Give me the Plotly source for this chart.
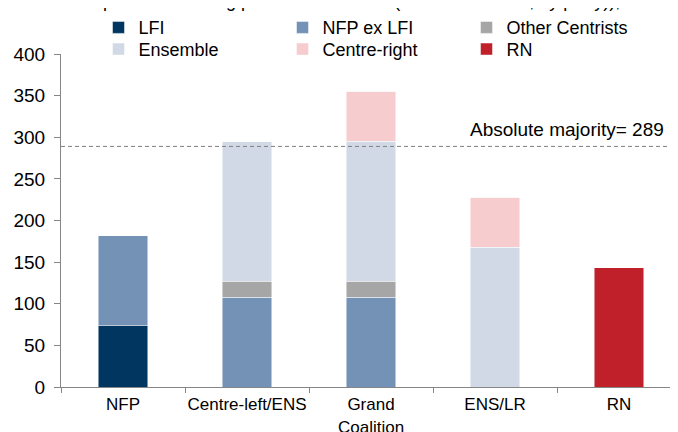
import plotly.graph_objects as go

categories = ["NFP", "Centre-left/ENS", "Grand<br>Coalition", "ENS/LR", "RN"]

series_names = ["LFI", "NFP ex LFI", "Other Centrists", "Ensemble", "Centre-right", "RN"]
lfi = [74, 0, 0, 0, 0]
nfp_ex_lfi = [108, 108, 108, 0, 0]
other_centrists = [0, 19, 19, 0, 0]
ensemble = [0, 168, 168, 168, 0]
centre_right = [0, 0, 60, 60, 0]
rn = [0, 0, 0, 0, 143]
colors = ["#003660", "#7392B5", "#A6A6A6", "#D2D9E6", "#F6CCCE", "#C0202A"]
legend_rows = ["legend", "legend", "legend", "legend2", "legend2", "legend2"]

majority = 289
y_ticks = [0, 50, 100, 150, 200, 250, 300, 350, 400]
title_text = "Groups in the running potential coalitions (number of seats, by party)),"

FONT = "Liberation Sans, Arial, sans-serif"

fig = go.Figure()
for name, vals, col, lg in zip(series_names,
                               [lfi, nfp_ex_lfi, other_centrists, ensemble, centre_right, rn],
                               colors, legend_rows):
    fig.add_trace(go.Bar(
        x=categories, y=vals, name=name, legend=lg,
        marker=dict(color=col, line=dict(color="rgba(255,255,255,0.6)", width=0.8)),
        width=0.4,
    ))

fig.add_shape(type="line", xref="paper", yref="y", x0=0, x1=0.99,
              y0=majority, y1=majority,
              line=dict(color="#7F7F7F", width=1, dash="4px,3px"))
fig.add_annotation(xref="paper", yref="y", x=0.968, y=majority,
                   text=f"Absolute majority= {majority}", showarrow=False,
                   xanchor="right", yanchor="bottom", yshift=4,
                   font=dict(family=FONT, size=19, color="#000000"))
fig.add_annotation(xref="paper", yref="paper", x=0.0, y=1.123,
                   text=title_text, showarrow=False,
                   xanchor="left", yanchor="bottom",
                   font=dict(family=FONT, size=18, color="#000000"))

legend_common = dict(orientation="h", xanchor="left", yanchor="middle",
                     xref="paper", yref="paper",
                     entrywidth=139, entrywidthmode="pixels", itemwidth=30,
                     traceorder="normal", font=dict(family=FONT, size=18),
                     bgcolor="rgba(0,0,0,0)", borderwidth=0)

fig.update_layout(
    width=678, height=432,
    margin=dict(l=53, r=0, t=46, b=53, pad=0, autoexpand=False),
    barmode="stack",
    plot_bgcolor="white", paper_bgcolor="white",
    font=dict(family=FONT, size=18, color="#000000"),
    showlegend=True,
    legend=dict(x=0.06, y=1.079, **legend_common),
    legend2=dict(x=0.06, y=1.014, **legend_common),
    xaxis=dict(type="category", range=[-0.5, 4.54], showline=True,
               linecolor="#868686", linewidth=1, ticks="outside",
               tickson="boundaries", ticklen=5, tickcolor="#868686",
               showgrid=False, zeroline=False, tickfont=dict(size=17),
               tickangle=0, ticklabelstandoff=2),
    yaxis=dict(range=[0, 400], tickvals=y_ticks, showline=True,
               linecolor="#868686", linewidth=1, ticks="outside",
               ticklen=6, tickcolor="#868686", showgrid=False, zeroline=False,
               tickfont=dict(size=19), ticklabelstandoff=5),
)

fig.write_html("out.html")
